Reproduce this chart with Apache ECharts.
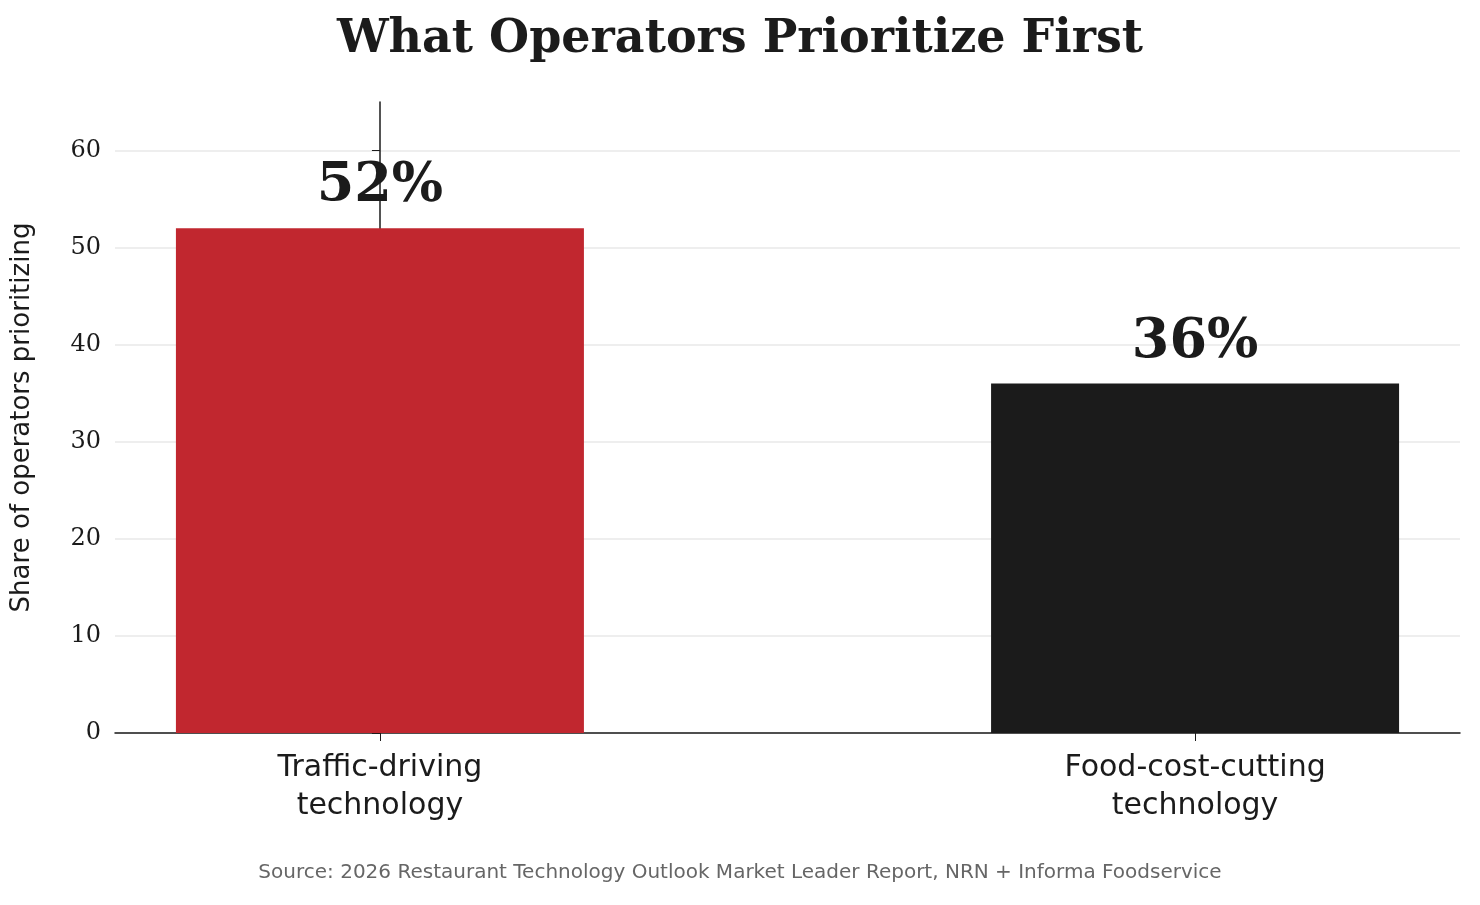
<!DOCTYPE html>
<html>
<head>
<meta charset="utf-8">
<title>What Operators Prioritize First</title>
<script src="https://cdn.jsdelivr.net/npm/echarts@6/dist/echarts.min.js"></script>
<style>
  html, body { margin: 0; padding: 0; background: #fff; }
  #chart { width: 1480px; height: 905px; }
</style>
</head>
<body>
<div id="chart"></div>
<script>
var categories = ['Traffic-driving\ntechnology', 'Food-cost-cutting\ntechnology'];
var shares = [52, 36];
var barColors = ['#c1272f', '#1b1b1b'];
var yTicks = [0, 10, 20, 30, 40, 50, 60];

var chart = echarts.init(document.getElementById('chart'));
chart.setOption({
  animation: false,
  title: {
    text: 'What Operators Prioritize First',
    left: 'center', top: 12,
    textStyle: { fontFamily: 'DejaVu Serif', fontWeight: 'bold', fontSize: 46, color: '#1b1b1b' }
  },
  graphic: [{
    type: 'text', left: 'center', top: 863,
    style: {
      text: 'Source: 2026 Restaurant Technology Outlook Market Leader Report, NRN + Informa Foodservice',
      fontFamily: 'DejaVu Sans', fontSize: 20, fill: '#666'
    }
  }],
  grid: { left: 115, right: 20, top: 102, bottom: 172 },
  xAxis: {
    type: 'value', min: -0.325, max: 1.325,
    splitLine: { show: false },
    axisLine: { lineStyle: { color: '#1b1b1b', width: 1.5 } },
    axisTick: { show: true, customValues: [0, 1], length: 8, lineStyle: { color: '#1b1b1b' } },
    axisLabel: {
      customValues: [0, 1],
      formatter: function (v) { return categories[Math.round(v)]; },
      fontFamily: 'DejaVu Sans', fontSize: 30, color: '#1b1b1b', lineHeight: 38, margin: 16
    }
  },
  yAxis: {
    type: 'value', min: 0, max: 65,
    name: 'Share of operators prioritizing',
    nameLocation: 'middle', nameGap: 80,
    nameTextStyle: { fontFamily: 'DejaVu Sans', fontSize: 26, color: '#1b1b1b' },
    axisLine: { show: true, lineStyle: { color: '#1b1b1b', width: 1.5 } },
    axisTick: { show: true, customValues: yTicks, length: 8, lineStyle: { color: '#1b1b1b' } },
    axisLabel: { customValues: yTicks, fontFamily: 'DejaVu Serif', fontSize: 24, color: '#1b1b1b', margin: 14 },
    splitLine: { show: true, lineStyle: { color: '#eeeeee', width: 2 } }
  },
  series: [{
    type: 'bar',
    barWidth: 408,
    data: shares.map(function (v, i) {
      return { value: [i, v], itemStyle: { color: barColors[i] } };
    }),
    label: {
      show: true, position: 'top', distance: 14,
      formatter: function (p) { return p.value[1] + '%'; },
      fontFamily: 'DejaVu Serif', fontWeight: 'bold', fontSize: 54, color: '#1b1b1b'
    }
  }]
});
</script>
</body>
</html>
